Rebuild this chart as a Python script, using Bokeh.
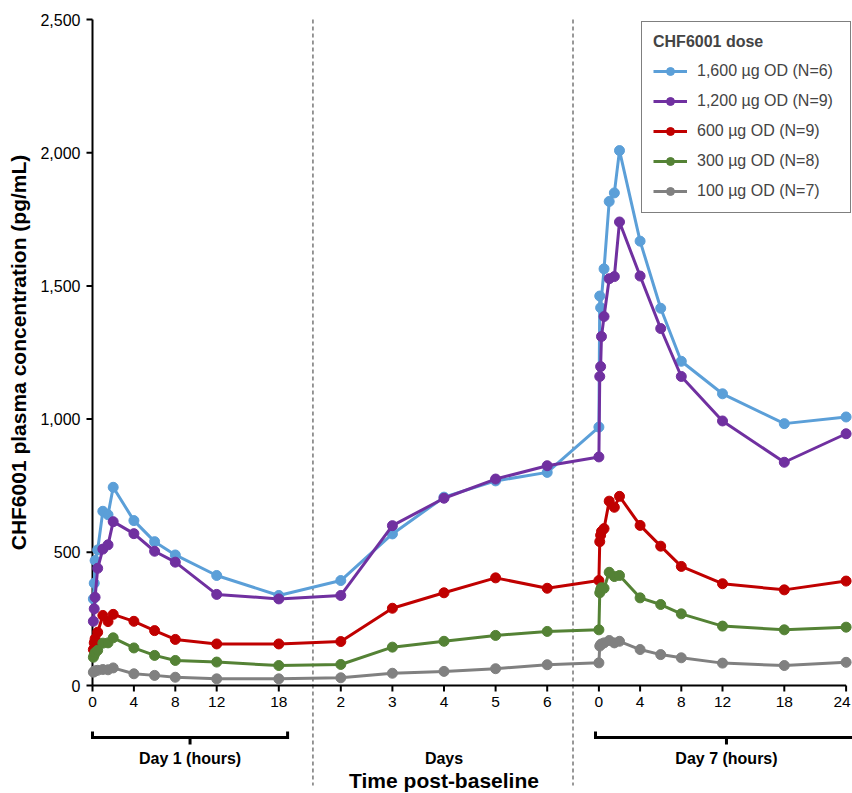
import math
from bokeh.plotting import figure
from bokeh.models import Range1d, Legend, LegendItem
from bokeh.core.properties import value
from bokeh.embed import file_html
from bokeh.resources import INLINE

FONT = "Liberation Sans"

# ---------------- data ----------------
series_labels = ["1,600 µg OD (N=6)", "1,200 µg OD (N=9)", "600 µg OD (N=9)",
                 "300 µg OD (N=8)", "100 µg OD (N=7)"]
series_colors = ["#5B9FD8", "#7030A0", "#C00000", "#548235", "#808080"]

day1_hours = [0.083, 0.167, 0.25, 0.5, 1, 1.5, 2, 4, 6, 8, 12, 18]
mid_days = [2, 3, 4, 5, 6]
day7_hours = [0, 0.083, 0.167, 0.25, 0.5, 1, 1.5, 2, 4, 6, 8, 12, 18, 24]

d1_1600 = [325, 384, 469, 509, 654, 641, 744, 619, 540, 490, 413, 338]
dd_1600 = [394, 569, 707, 768, 800]
d7_1600 = [970, 1462, 1418, None, 1564, 1817, 1849, 2008, 1668, 1416, 1217, 1095, 983, 1008]

d1_1200 = [241, 288, 331, 440, 512, 528, 615, 570, 504, 463, 342, 325]
dd_1200 = [338, 600, 703, 775, 825]
d7_1200 = [858, 1160, 1197, 1310, 1385, 1527, 1535, 1740, 1537, 1340, 1160, 993, 838, 945]

d1_600 = [135, 160, 175, 200, 263, 240, 267, 241, 206, 173, 156, 156]
dd_600 = [165, 290, 348, 404, 365]
d7_600 = [394, 540, 564, 578, 589, 692, 669, 710, 601, 523, 447, 382, 359, 392]

d1_300 = [106, 115, 124, 132, 159, 160, 179, 141, 113, 94, 88, 75]
dd_300 = [79, 144, 166, 188, 203]
d7_300 = [209, 348, 360, 367, 365, 425, 409, 413, 329, 304, 269, 223, 209, 219]

d1_100 = [50, 53, 55, 57, 60, 59, 66, 44, 38, 31, 25, 25]
dd_100 = [29, 46, 53, 63, 78]
d7_100 = [85, 148, 153, 156, 160, 169, 160, 166, 135, 116, 104, 84, 75, 87]

series_day1 = [d1_1600, d1_1200, d1_600, d1_300, d1_100]
series_days = [dd_1600, dd_1200, dd_600, dd_300, dd_100]
series_day7 = [d7_1600, d7_1200, d7_600, d7_300, d7_100]

y_ticks = [0, 500, 1000, 1500, 2000, 2500]
day1_ticks = [0, 4, 8, 12, 18]
days_ticks = [2, 3, 4, 5, 6]
day7_ticks = [0, 4, 8, 12, 18, 24]

y_title = "CHF6001 plasma concentration (pg/mL)"
x_title = "Time post-baseline"
legend_title = "CHF6001 dose"
segment_titles = ["Day 1 (hours)", "Days", "Day 7 (hours)"]

# ---------------- layout (broken time axis, frame = whole canvas) ----------------
W, H = 852, 793
LEFT = 92          # pixel of the y axis
TOP = 19           # pixel of 2,500
AXIS_PX = 666      # pixel height of 0..2500
Y_MAX = 2500
Y_PER_PX = Y_MAX / AXIS_PX
Y_LO = -(H - TOP - AXIS_PX) * Y_PER_PX
Y_HI = Y_MAX + TOP * Y_PER_PX


def x_day1(h):
    return 10.35 * h


def x_days(d):
    return 248.3 + 51.6 * (d - 2)


def x_day7(h):
    return 506.4 + 10.3 * h


p = figure(width=W, height=H, x_range=Range1d(-LEFT, W - LEFT), y_range=Range1d(Y_LO, Y_HI),
           x_axis_location=None, y_axis_location=None, toolbar_location=None, output_backend="svg",
           min_border_left=0, min_border_right=0, min_border_top=0, min_border_bottom=0)
p.outline_line_color = None
p.grid.visible = False
p.background_fill_color = "white"

# dashed separators
dash_xs = [x_day1(21.3), x_days(6.5)]
p.segment(x0=dash_xs, y0=[Y_MAX] * 2, x1=dash_xs, y1=[-100 * Y_PER_PX] * 2,
          line_color="#333333", line_width=1, line_dash="4 3")

# y axis
p.segment(x0=[0], y0=[0], x1=[0], y1=[Y_MAX], line_color="black", line_width=2)
ny = len(y_ticks)
p.segment(x0=[0] * ny, y0=y_ticks, x1=[-6] * ny, y1=y_ticks, line_color="black", line_width=2)
p.text(x=[0] * ny, y=y_ticks, text=[f"{t:,}" for t in y_ticks], x_offset=-12,
       text_align="right", text_baseline="middle", text_font=value(FONT),
       text_font_size="16px", text_color="black")
p.text(x=[-74], y=[Y_MAX / 2], text=[y_title], angle=math.pi / 2,
       text_align="center", text_baseline="middle", text_font=value(FONT),
       text_font_style="bold", text_font_size="21px", text_color="black")

# x axis (across the three segments)
p.segment(x0=[x_day1(0)], y0=[0], x1=[x_day7(24)], y1=[0], line_color="black", line_width=2)
tick_xs = [x_day1(h) for h in day1_ticks] + [x_days(d) for d in days_ticks] + [x_day7(h) for h in day7_ticks]
tick_txt = [str(t) for t in day1_ticks + days_ticks + day7_ticks]
n = len(tick_xs)
tick_shift = [0] * (n - 1) + [-4]   # keep the last label inside the canvas
p.segment(x0=tick_xs, y0=[0] * n, x1=tick_xs, y1=[-6 * Y_PER_PX] * n, line_color="black", line_width=2)
p.text(x=tick_xs, y=[0] * n, text=tick_txt, x_offset=tick_shift, y_offset=11,
       text_align="center", text_baseline="top",
       text_font=value(FONT), text_font_size="15.5px", text_color="black")

# brackets
BR_Y = -52 * Y_PER_PX
HOOK = 6 * Y_PER_PX
brackets = [(x_day1(0), x_day1(18.85)), (x_day7(-0.33), x_day7(25.1))]
bx, by = [], []
for a, b in brackets:
    bx.append([a, a, b, b])
    by.append([BR_Y + HOOK, BR_Y, BR_Y, BR_Y + HOOK])
p.multi_line(xs=bx, ys=by, line_color="black", line_width=3, line_join="miter")
mids = [(a + b) / 2 for a, b in brackets]
p.segment(x0=mids, y0=[BR_Y] * 2, x1=mids, y1=[BR_Y - 7 * Y_PER_PX] * 2, line_color="black", line_width=3)

seg_xs = [mids[0], x_days(4), mids[1]]
p.text(x=seg_xs, y=[0] * 3, text=segment_titles, y_offset=73, text_align="center", text_baseline="middle",
       text_font=value(FONT), text_font_size="16px", text_font_style="bold", text_color="black")
p.text(x=[x_days(4)], y=[0], text=[x_title], y_offset=95, text_align="center", text_baseline="middle",
       text_font=value(FONT), text_font_size="21px", text_font_style="bold", text_color="black")

# data series
items = []
for lab, col, v1, vd, v7 in zip(series_labels, series_colors, series_day1, series_days, series_day7):
    xs = [x_day1(h) for h in day1_hours] + [x_days(d) for d in mid_days] + \
         [x_day7(h) for h, v in zip(day7_hours, v7) if v is not None]
    ys = list(v1) + list(vd) + [v for v in v7 if v is not None]
    lr = p.line(xs, ys, line_color=col, line_width=3, line_join="round")
    sr = p.scatter(xs, ys, size=10, fill_color=col, line_color=col)
    items.append(LegendItem(label=lab, renderers=[lr, sr]))

legend = Legend(items=items, location=(641, 580), title=legend_title,
                title_text_font=FONT, title_text_font_style="bold", title_text_font_size="16px",
                title_standoff=10, label_text_font=FONT, label_text_font_size="16px",
                label_height=20, glyph_height=20, glyph_width=34, label_standoff=10,
                label_width=142, spacing=10, padding=11, margin=0,
                border_line_color="black", border_line_width=1, background_fill_alpha=1)
p.add_layout(legend)

open("out.html", "w").write(file_html(p, INLINE))
